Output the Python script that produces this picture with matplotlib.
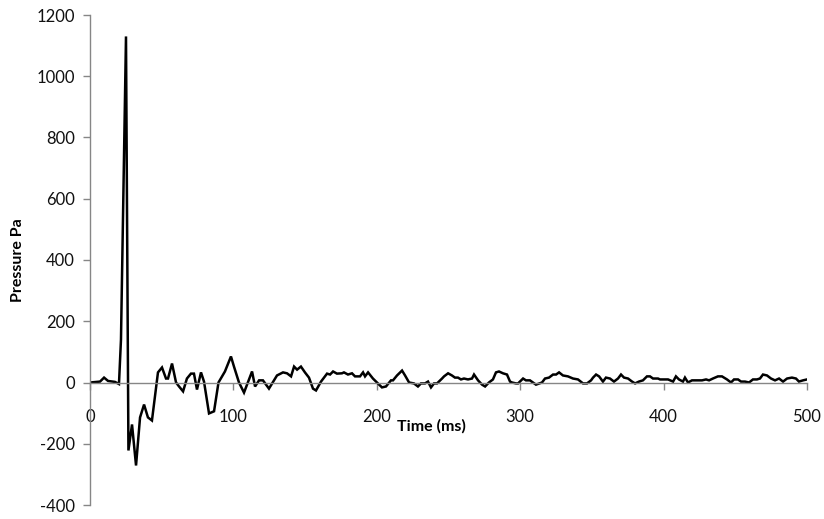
import matplotlib.pyplot as plt

# Pressure trace (time in ms, pressure in Pa)
time_ms = [0.0, 7.0, 9.8, 12.6, 17.4, 20.2, 21.6, 25.1, 26.8, 29.3, 32.1, 34.9,
           37.7, 40.4, 43.2, 47.4, 50.2, 53.0, 54.4, 57.2, 60.0, 62.1, 64.9, 67.6,
           70.4, 72.5, 74.6, 77.4, 79.5, 83.0, 86.5, 89.6, 94.1, 98.3, 100.4, 103.9,
           107.4, 113.0, 115.1, 117.9, 120.6, 124.8, 130.4, 134.6, 137.4, 140.2, 142.3, 144.4,
           147.1, 149.9, 152.7, 155.5, 157.6, 161.1, 165.3, 167.4, 169.5, 172.2, 175.7, 177.1,
           179.9, 182.7, 184.8, 188.3, 190.4, 191.8, 193.9, 197.3, 200.1, 203.6, 206.4, 209.9,
           211.3, 214.1, 217.6, 219.7, 222.5, 225.9, 228.7, 230.8, 233.6, 235.7, 237.8, 239.9,
           242.0, 245.5, 246.9, 249.7, 252.4, 254.5, 256.6, 258.7, 260.8, 263.6, 266.4, 267.8,
           270.6, 273.4, 275.5, 278.2, 281.0, 283.1, 285.2, 288.0, 290.8, 292.9, 294.3, 297.1,
           298.5, 302.0, 304.0, 306.8, 308.9, 311.0, 315.2, 317.3, 320.1, 322.9, 325.0, 327.1,
           329.8, 333.3, 336.8, 340.3, 343.8, 346.6, 349.4, 350.8, 352.9, 355.0, 357.7, 359.8,
           362.6, 365.4, 368.2, 370.3, 372.4, 375.2, 378.0, 380.1, 382.8, 385.6, 388.4, 390.5,
           392.6, 396.1, 397.5, 401.0, 403.1, 406.6, 408.6, 410.7, 413.5, 414.9, 417.0, 419.8,
           423.3, 426.8, 429.6, 431.7, 434.4, 437.9, 440.7, 444.2, 447.0, 449.1, 451.9, 454.0,
           456.8, 459.6, 462.3, 465.1, 467.2, 469.3, 472.1, 474.9, 477.7, 480.5, 483.3, 486.1,
           489.5, 492.3, 494.4, 497.2, 500.0]
pressure_pa = [0, 3, 16, 5, 2, -5, 140, 1130, -222, -137, -271, -114,
               -72, -114, -124, 33, 49, 13, 13, 62, 0, -13, -29, 13,
               29, 29, -23, 33, 3, -101, -94, 0, 36, 85, 52, 0,
               -33, 36, -13, 7, 7, -20, 23, 33, 30, 20, 52, 42,
               52, 33, 16, -20, -26, 3, 29, 26, 36, 29, 30, 33,
               26, 30, 20, 20, 33, 20, 33, 13, 0, -16, -13, 7,
               7, 23, 39, 23, 0, -3, -13, -3, -3, 3, -16, -3,
               -3, 13, 20, 30, 23, 16, 16, 10, 13, 10, 13, 26,
               7, -7, -13, 0, 10, 33, 36, 30, 26, 3, 0, -3,
               -3, 13, 7, 7, 0, -7, 0, 13, 16, 26, 26, 33,
               23, 20, 13, 10, -3, -3, 7, 16, 26, 20, 3, 16,
               13, 3, 13, 26, 16, 13, 3, -3, 3, 7, 20, 20,
               13, 13, 10, 10, 10, 3, 20, 10, 3, 16, 0, 7,
               7, 7, 10, 7, 13, 20, 20, 10, 0, 10, 10, 3,
               3, 0, 10, 10, 13, 26, 23, 13, 7, 13, 3, 13,
               16, 13, 3, 7, 10]

x_ticks = [0, 100, 200, 300, 400, 500]
y_ticks = [-400, -200, 0, 200, 400, 600, 800, 1000, 1200]

axis_grey = '#868686'
plt.rcParams['font.family'] = ['Lato', 'DejaVu Sans']
plt.rcParams['axes.unicode_minus'] = False

fig = plt.figure(figsize=(8.24, 5.19), dpi=100)
ax = fig.add_axes([90 / 824, 14 / 519, 717 / 824, 490 / 519])

ax.plot(time_ms, pressure_pa, color='black', linewidth=1.8, solid_joinstyle='miter')

ax.set_xlim(0, 500)
ax.set_ylim(-400, 1200)
ax.set_xticks(x_ticks)
ax.set_yticks(y_ticks)

# Excel-style axes: x axis crosses at zero, no top/right frame
ax.spines['top'].set_visible(False)
ax.spines['right'].set_visible(False)
ax.spines['bottom'].set_position(('data', 0))
for side in ('left', 'bottom'):
    ax.spines[side].set_color(axis_grey)
    ax.spines[side].set_linewidth(1.0)

ax.tick_params(axis='both', colors=axis_grey, labelcolor='#111111',
               labelsize=12, length=5, width=1.0, direction='out')
ax.tick_params(axis='x', pad=14)
ax.tick_params(axis='y', pad=6)

ax.set_ylabel('Pressure Pa', fontsize=11.5, fontweight='bold', labelpad=8)
ax.text(238, -144, 'Time (ms)', ha='center', va='center',
        fontsize=11.5, fontweight='bold')

fig.savefig('out.png', dpi=100)
